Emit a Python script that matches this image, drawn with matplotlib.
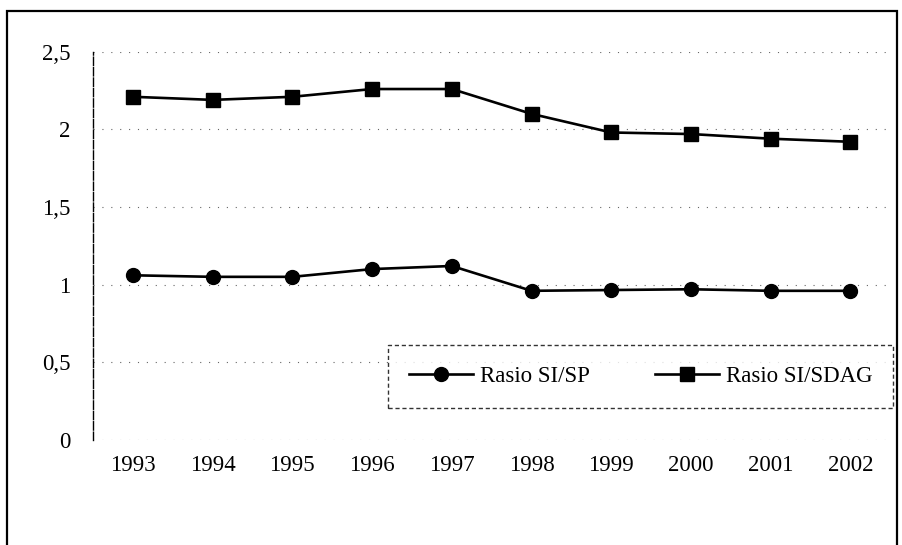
import matplotlib
matplotlib.use('Agg')
import matplotlib.pyplot as plt
from matplotlib.patches import Rectangle

# data
years = [1993, 1994, 1995, 1996, 1997, 1998, 1999, 2000, 2001, 2002]
rasio_si_sp = [1.06, 1.05, 1.05, 1.10, 1.12, 0.96, 0.965, 0.97, 0.96, 0.96]
rasio_si_sdag = [2.21, 2.19, 2.21, 2.26, 2.26, 2.10, 1.98, 1.97, 1.94, 1.92]
y_ticks = [0, 0.5, 1, 1.5, 2, 2.5]
y_tick_labels = ['0', '0,5', '1', '1,5', '2', '2,5']

plt.rcParams['font.family'] = ['Liberation Serif', 'DejaVu Serif']

fig = plt.figure(figsize=(9.03, 5.45), dpi=100)
ax = fig.add_axes([0.103, 0.193, 0.883, 0.712])

# outer frame round the whole chart
fig.patches.append(Rectangle((0.008, -0.02), 0.985, 1.0, transform=fig.transFigure,
                             fill=False, edgecolor='black', linewidth=1.6))

ax.plot(years, rasio_si_sp, '-o', color='black', linewidth=1.9, markersize=10,
        label='Rasio SI/SP')
ax.plot(years, rasio_si_sdag, '-s', color='black', linewidth=1.9, markersize=10,
        label='Rasio SI/SDAG')

ax.set_xlim(1992.5, 2002.5)
ax.set_ylim(0, 2.5)
ax.set_xticks(years)
ax.set_xticklabels([str(y) for y in years], fontsize=16.5)
ax.set_yticks(y_ticks)
ax.set_yticklabels(y_tick_labels, fontsize=16.5)
ax.tick_params(length=0)
ax.tick_params(axis='y', pad=16)
ax.tick_params(axis='x', pad=11)

ax.grid(axis='y', linestyle=(0, (1, 7)), color='#666666', linewidth=0.8)
for side in ['top', 'right', 'bottom']:
    ax.spines[side].set_visible(False)
ax.spines['left'].set_linestyle((0, (6, 1.5)))
ax.spines['left'].set_linewidth(1.0)

leg = ax.legend(loc='center', ncol=2, fontsize=16.5, mode='expand',
                bbox_to_anchor=(0.43, 0.251, 0.559, 0.116),
                bbox_transform=fig.transFigure, frameon=True, fancybox=False,
                handlelength=2.8, handletextpad=0.3, columnspacing=2.0,
                borderpad=0.9, borderaxespad=0.0)
leg.get_frame().set_edgecolor('black')
leg.get_frame().set_linestyle((0, (3, 2)))
leg.get_frame().set_linewidth(1.0)

fig.savefig('out.png', dpi=100)
